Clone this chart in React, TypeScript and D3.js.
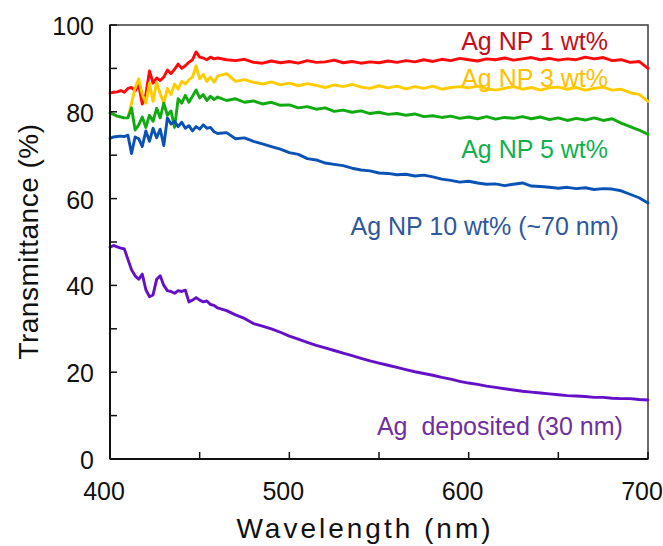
import React from "react";
import * as d3 from "d3";

const wavelengths: number[] = [
  400, 402, 404, 406, 408, 410, 412, 414, 416, 418, 420, 422, 424, 426, 428, 430,
  432, 434, 436, 438, 440, 442, 444, 446, 448, 450, 452, 454, 456, 458, 460,
  465, 470, 475, 480, 485, 490, 495, 500, 505, 510, 515, 520, 525, 530, 535, 540,
  545, 550, 555, 560, 565, 570, 575, 580, 585, 590, 595, 600, 605, 610, 615, 620,
  625, 630, 635, 640, 645, 650, 655, 660, 665, 670, 675, 680, 685, 690, 695, 700,
];

const agNP1: (number | null)[] = [
  84.3, 84.5, 84.6, 84.9, 84.5, 85.4, 85.6, 84.8, 86.2, 81.8, 84.0, 89.4, 86.6, 87.8, 87.2, 88.0,
  89.6, 88.8, 89.8, 91.0, 90.0, 90.6, 91.4, 92.0, 93.8, 92.6, 92.4, 92.0, 92.6, 92.2, 92.4,
  92.0, 91.8, 92.1, 91.4, 91.2, 91.7, 91.3, 91.6, 91.2, 91.8, 91.4, 91.5, 91.9, 91.3, 91.6, 91.2,
  91.5, 91.3, 91.7, 91.4, 91.8, 91.5, 92.0, 91.6, 92.1, 91.8, 92.3, 92.0, 91.7, 92.2, 92.0, 92.4,
  91.9, 92.2, 92.5, 92.0, 92.3, 91.9, 92.2, 92.0, 92.6, 92.2, 92.5, 91.8, 92.0, 91.4, 91.6, 90.0,
];

const agNP3: (number | null)[] = [
  null, null, null, null, null, 78.6, 82.0, 85.5, 87.6, 84.0, 82.0, 86.6, 82.4, 86.8, 84.2, 82.0,
  85.4, 84.0, 86.4, 85.2, 87.0, 86.4, 87.4, 88.0, 90.6, 87.6, 88.6, 87.0, 88.0, 86.8, 88.2,
  88.8, 87.0, 87.4, 86.8, 86.4, 86.9, 86.2, 86.6, 86.0, 86.5, 86.1, 85.6, 86.2, 85.8, 86.3, 85.7,
  85.4, 86.0, 85.5, 85.9, 85.3, 85.8, 85.4, 85.9, 85.2, 85.6, 85.8, 85.5, 85.9, 85.3, 85.0, 85.4,
  85.8, 85.2, 85.6, 85.0, 85.5, 85.7, 85.2, 85.6, 85.0, 85.4, 85.7, 85.0, 85.2, 84.4, 84.0, 82.4,
];

const agNP5: (number | null)[] = [
  79.7, 79.4, 79.0, 78.8, 78.6, 78.6, 80.9, 75.8, 77.0, 78.8, 76.4, 79.2, 77.8, 80.8, 78.6, 82.0,
  79.2, 80.2, 76.4, 83.0, 82.0, 83.8, 82.2, 83.6, 85.0, 83.2, 84.0, 82.6, 83.6, 82.8, 83.4,
  82.6, 83.0, 82.2, 82.5, 81.8, 82.2, 81.5, 81.6, 80.9, 81.2, 80.6, 80.9, 80.1, 80.4, 79.9, 80.2,
  79.6, 79.9, 79.4, 79.6, 79.2, 79.5, 78.9, 79.1, 78.7, 79.0, 78.5, 78.8, 78.4, 78.9, 78.3, 78.7,
  78.5, 78.9, 78.4, 78.8, 78.2, 78.6, 78.0, 78.5, 78.1, 78.6, 78.0, 78.4, 77.4, 76.6, 75.8, 74.8,
];

const agNP10: (number | null)[] = [
  73.9, 74.2, 74.3, 74.4, 74.3, 74.6, 70.4, 74.2, 73.8, 72.0, 75.6, 73.2, 76.2, 74.0, 76.0, 72.2,
  78.6, 77.2, 77.8, 76.6, 77.6, 76.2, 76.8, 75.6, 76.6, 76.0, 77.0, 76.2, 76.4, 75.4, 75.0,
  75.2, 73.8, 74.0, 73.2, 72.6, 72.0, 71.4, 70.6, 70.2, 69.2, 68.9, 68.2, 67.9, 67.6, 67.0, 66.6,
  66.4, 65.9, 65.8, 65.5, 65.6, 65.2, 65.4, 65.0, 64.5, 64.2, 63.8, 64.0, 63.6, 63.3, 63.4, 63.0,
  63.3, 63.6, 62.9, 62.8, 62.6, 62.4, 62.6, 62.3, 62.5, 62.1, 62.3, 62.2, 61.8, 61.0, 60.2, 59.0,
];

const agDeposited: (number | null)[] = [
  48.8, 49.2, 48.9, 48.6, 48.4, 46.0, 43.6, 42.2, 41.4, 42.6, 39.0, 37.4, 37.8, 41.4, 42.2, 40.0,
  38.8, 38.6, 38.2, 38.8, 38.6, 38.9, 36.2, 36.6, 37.2, 36.6, 36.2, 36.4, 35.6, 35.4, 34.8,
  34.2, 33.2, 32.4, 31.2, 30.6, 30.0, 29.2, 28.3, 27.6, 26.9, 26.2, 25.6, 25.0, 24.4, 23.8, 23.2,
  22.6, 22.1, 21.6, 21.1, 20.6, 20.1, 19.7, 19.3, 18.8, 18.4, 17.9, 17.5, 17.2, 16.8, 16.5, 16.2,
  15.9, 15.6, 15.4, 15.2, 15.0, 14.8, 14.6, 14.5, 14.4, 14.2, 14.2, 14.0, 13.9, 13.9, 13.7, 13.6,
];

const seriesNames = [
  "Ag NP 1 wt%",
  "Ag NP 3 wt%",
  "Ag NP 5 wt%",
  "Ag NP 10 wt% (~70 nm)",
  "Ag  deposited (30 nm)",
];
const seriesValues = [agNP1, agNP3, agNP5, agNP10, agDeposited];
const lineColors = ["#ff0a0a", "#ffcc00", "#11aa11", "#0a52b4", "#6410c8"];
const labelColors = ["#c0101c", "#ffc000", "#10b050", "#30589c", "#7030a0"];
// label anchor (end) in data coordinates: wavelength, transmittance
const labelWl = [677.7, 677.7, 677.7, 683.8, 686];
const labelT = [94.2, 85.8, 69.4, 51.6, 5.5];

const xTicks = [400, 500, 600, 700];
const xMinorTicks = [400, 450, 500, 550, 600, 650, 700];
const yTicks = [0, 20, 40, 60, 80, 100];
const yMinorTicks = [0, 10, 20, 30, 40, 50, 60, 70, 80, 90, 100];

const W = 663;
const H = 546;
const left = 110;
const right = 648;
const top = 25;
const bottom = 459;

export default function App() {
  const x = d3.scaleLinear().domain([400, 700]).range([left, right]);
  const y = d3.scaleLinear().domain([0, 100]).range([bottom, top]);
  const font = "'Liberation Sans', Arial, sans-serif";

  const line = d3
    .line<[number, number | null]>()
    .defined((d) => d[1] !== null)
    .x((d) => x(d[0]))
    .y((d) => y(d[1] as number));

  return (
    <svg
      width={W}
      height={H}
      style={{ position: "absolute", left: 0, top: 0, background: "#fff" }}
      fontFamily={font}
    >
      <rect x={0} y={0} width={W} height={H} fill="#fff" />
      {/* frame */}
      <rect
        x={left}
        y={top}
        width={right - left}
        height={bottom - top}
        fill="none"
        stroke="#3a3a3a"
        strokeWidth={1.5}
      />
      {/* series */}
      {seriesValues.map((vals, i) => (
        <path
          key={seriesNames[i]}
          d={line(wavelengths.map((w, k) => [w, vals[k]]) as [number, number | null][]) || ""}
          fill="none"
          stroke={lineColors[i]}
          strokeWidth={2.9}
          strokeLinejoin="round"
          strokeLinecap="round"
        />
      ))}
      {/* axes */}
      <line x1={left} x2={left} y1={top} y2={bottom} stroke="#111" strokeWidth={2} />
      <line x1={left} x2={right} y1={bottom} y2={bottom} stroke="#111" strokeWidth={2} />
      {yMinorTicks.map((t) => (
        <line key={"yt" + t} x1={left} x2={left + 7} y1={y(t)} y2={y(t)} stroke="#111" strokeWidth={1.5} />
      ))}
      {xMinorTicks.map((t) => (
        <line key={"xt" + t} x1={x(t)} x2={x(t)} y1={bottom} y2={bottom - 7} stroke="#111" strokeWidth={1.5} />
      ))}
      {yTicks.map((t) => (
        <text
          key={"yl" + t}
          x={left - 16}
          y={y(t)}
          dy="0.4em"
          textAnchor="end"
          fontSize={25}
          fill="#111"
        >
          {t}
        </text>
      ))}
      {xTicks.map((t) => (
        <text
          key={"xl" + t}
          x={x(t) - 6}
          y={bottom + 41}
          textAnchor="middle"
          fontSize={25}
          fill="#111"
        >
          {t}
        </text>
      ))}
      {/* axis titles */}
      <text
        x={365}
        y={538}
        textAnchor="middle"
        fontSize={28}
        letterSpacing={3}
        fill="#111"
      >
        Wavelength (nm)
      </text>
      <text
        transform={`translate(38, ${(123 + 360) / 2}) rotate(-90)`}
        textAnchor="middle"
        fontSize={28}
        letterSpacing={0.5}
        fill="#111"
      >
        Transmittance (%)
      </text>
      {/* series labels */}
      {seriesNames.map((name, i) => (
        <text
          key={"lab" + i}
          x={x(labelWl[i])}
          y={y(labelT[i])}
          textAnchor="end"
          fontSize={25}
          fill={labelColors[i]}
          style={{ whiteSpace: "pre" }}
        >
          {name}
        </text>
      ))}
    </svg>
  );
}
